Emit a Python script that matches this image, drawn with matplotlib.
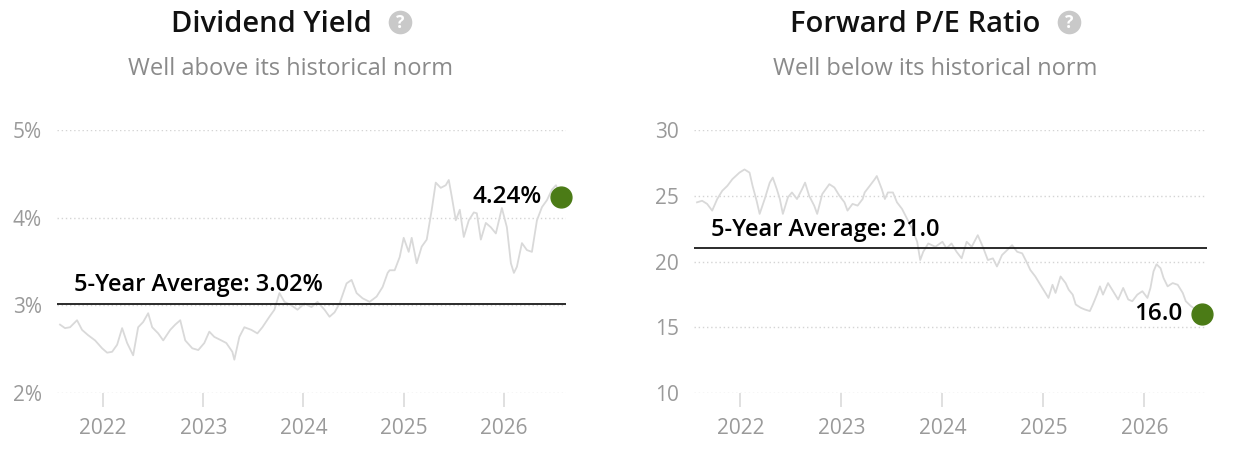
import matplotlib
matplotlib.use("Agg")
import matplotlib.pyplot as plt

plt.rcParams.update({
    "font.family": ["Open Sans", "DejaVu Sans"],
    "figure.facecolor": "white",
    "axes.facecolor": "white",
})

# -----------------------------
# Data (decimal years)
# -----------------------------
div_years = [2021.57, 2021.62, 2021.67, 2021.74, 2021.79, 2021.85, 2021.92, 2021.99,
             2022.04, 2022.09, 2022.14, 2022.19, 2022.24, 2022.30, 2022.35, 2022.40,
             2022.45, 2022.49, 2022.55, 2022.60, 2022.67, 2022.72, 2022.77, 2022.82,
             2022.89, 2022.95, 2023.01, 2023.06, 2023.11, 2023.18, 2023.23, 2023.29,
             2023.31, 2023.36, 2023.41, 2023.48, 2023.54, 2023.59, 2023.66, 2023.71,
             2023.76, 2023.81, 2023.88, 2023.94, 2024.01, 2024.08, 2024.14, 2024.21,
             2024.26, 2024.31, 2024.36, 2024.43, 2024.48, 2024.53, 2024.59, 2024.66,
             2024.73, 2024.79, 2024.84, 2024.86, 2024.91, 2024.96, 2025.00, 2025.05,
             2025.08, 2025.13, 2025.18, 2025.23, 2025.28, 2025.32, 2025.37, 2025.42,
             2025.45, 2025.48, 2025.52, 2025.56, 2025.60, 2025.65, 2025.70, 2025.73,
             2025.77, 2025.82, 2025.87, 2025.92, 2025.98, 2026.03, 2026.07, 2026.10,
             2026.13, 2026.18, 2026.23, 2026.28, 2026.33, 2026.38, 2026.43, 2026.48,
             2026.52, 2026.57]
div_vals = [2.78, 2.74, 2.75, 2.83, 2.72, 2.66, 2.60, 2.51,
            2.46, 2.47, 2.55, 2.74, 2.57, 2.43, 2.75, 2.81,
            2.91, 2.75, 2.68, 2.60, 2.72, 2.78, 2.83, 2.60,
            2.51, 2.49, 2.57, 2.70, 2.64, 2.60, 2.57, 2.47,
            2.38, 2.64, 2.75, 2.72, 2.68, 2.75, 2.87, 2.95,
            3.14, 3.04, 3.00, 2.95, 3.02, 2.98, 3.04, 2.95,
            2.87, 2.92, 3.02, 3.25, 3.29, 3.14, 3.08, 3.04,
            3.10, 3.21, 3.37, 3.40, 3.40, 3.55, 3.77, 3.61,
            3.77, 3.48, 3.67, 3.75, 4.09, 4.40, 4.34, 4.37,
            4.43, 4.24, 3.97, 4.09, 3.78, 3.97, 4.06, 4.05,
            3.75, 3.94, 3.89, 3.82, 4.11, 3.89, 3.48, 3.37,
            3.44, 3.71, 3.63, 3.61, 3.97, 4.12, 4.20, 4.32,
            4.37, 4.24]
div_avg = 3.02

pe_years = [2021.57, 2021.62, 2021.67, 2021.72, 2021.77, 2021.82, 2021.87, 2021.92, 2021.99,
            2022.04, 2022.09, 2022.12, 2022.16, 2022.19, 2022.24, 2022.29, 2022.32, 2022.36,
            2022.39, 2022.42, 2022.47, 2022.51, 2022.56, 2022.61, 2022.64, 2022.68, 2022.73,
            2022.76, 2022.81, 2022.88, 2022.93, 2022.98,
            2023.03, 2023.06, 2023.11, 2023.16, 2023.21, 2023.23, 2023.28, 2023.33, 2023.35,
            2023.40, 2023.43, 2023.46, 2023.51, 2023.55, 2023.60, 2023.65, 2023.70, 2023.75,
            2023.78, 2023.81, 2023.86, 2023.93,
            2024.00, 2024.04, 2024.09, 2024.14, 2024.19, 2024.24, 2024.29, 2024.35, 2024.40,
            2024.45, 2024.50, 2024.54, 2024.59, 2024.64, 2024.69, 2024.74, 2024.79, 2024.84,
            2024.87, 2024.92, 2024.97,
            2025.02, 2025.05, 2025.09, 2025.12, 2025.17, 2025.22, 2025.25, 2025.29, 2025.32,
            2025.37, 2025.41, 2025.46, 2025.49, 2025.53, 2025.56, 2025.59, 2025.64, 2025.69,
            2025.74, 2025.79, 2025.84, 2025.88, 2025.93, 2025.98,
            2026.03, 2026.06, 2026.09, 2026.12, 2026.16, 2026.19, 2026.23, 2026.28, 2026.33,
            2026.38, 2026.41, 2026.46, 2026.51, 2026.57]
pe_vals = [24.50, 24.62, 24.38, 23.87, 24.75, 25.38, 25.75, 26.26, 26.76,
           27.00, 26.76, 25.75, 24.62, 23.62, 24.75, 26.00, 26.38, 25.50,
           24.75, 23.62, 24.88, 25.25, 24.75, 25.50, 26.00, 25.00, 24.25,
           23.62, 25.13, 25.88, 25.63, 25.00,
           24.50, 23.87, 24.38, 24.25, 24.75, 25.25, 25.75, 26.26, 26.50,
           25.50, 24.75, 25.25, 25.25, 24.50, 24.00, 23.25, 22.50, 21.50,
           20.11, 20.74, 21.37, 21.12,
           21.50, 21.00, 21.37, 20.74, 20.24, 21.50, 21.12, 22.00, 21.12,
           20.11, 20.24, 19.62, 20.49, 20.86, 21.24, 20.74, 20.62, 19.86,
           19.36, 18.86, 18.23,
           17.61, 17.23, 18.23, 17.61, 18.86, 18.36, 17.86, 17.48, 16.73,
           16.48, 16.35, 16.23, 16.73, 17.48, 18.11, 17.48, 18.36, 17.74,
           17.11, 17.99, 17.11, 16.98, 17.48, 17.74,
           17.23, 17.99, 19.24, 19.79, 19.49, 18.74, 18.11, 18.36, 18.23,
           17.61, 16.98, 16.61, 16.35, 16.00]
pe_avg = 21.0

year_ticks = [2022, 2023, 2024, 2025, 2026]
div_ticks = [2, 3, 4, 5]
pe_ticks = [10, 15, 20, 25, 30]

GREEN = "#4b7b16"
LINE = "#d9d9d9"
GRID = "#d4d4d4"
TICK_GRAY = "#9a9a9a"

fig = plt.figure(figsize=(12.4, 4.5), dpi=100)


def panel(rect, years, vals, avg, yticks, ylim, fmt, avg_label, last_label):
    ax = fig.add_axes(rect)
    ax.set_xlim(2021.54, 2026.62)
    ax.set_ylim(*ylim)
    for s in ax.spines.values():
        s.set_visible(False)

    for t in yticks:
        ax.axhline(t, color=GRID, lw=1.0, ls=(0, (1, 2)), zorder=0)

    ax.plot(years, vals, color=LINE, lw=1.3, zorder=1)
    ax.axhline(avg, color="#1a1a1a", lw=1.3, zorder=2)

    ax.set_yticks(yticks)
    ax.set_yticklabels([fmt(t) for t in yticks])
    ax.set_xticks(year_ticks)
    ax.set_xticklabels([str(y) for y in year_ticks])
    ax.tick_params(axis="y", length=0, pad=11, labelsize=15, labelcolor=TICK_GRAY)
    ax.tick_params(axis="x", length=10, width=1.3, color="#dddddd", pad=8,
                   labelsize=15, labelcolor=TICK_GRAY)

    ax.annotate(avg_label, xy=(2021.71, avg), xytext=(0, 9),
                textcoords="offset points", ha="left", va="baseline",
                fontsize=17, fontweight="semibold", color="black")

    ax.plot([years[-1]], [vals[-1]], "o", ms=15, color=GREEN, zorder=5, clip_on=False)
    ax.annotate(last_label, xy=(years[-1], vals[-1]), xytext=(-14, 0),
                textcoords="offset points", ha="right", va="center",
                fontsize=17.5, fontweight="semibold", color="black")
    return ax


bottom = (450 - 393) / 450
height = 263 / 450

panel([57 / 1240, bottom, 509 / 1240, height], div_years, div_vals, div_avg,
      div_ticks, (2, 5), lambda t: f"{t}%",
      f"5-Year Average: {div_avg:.2f}%", f"{div_vals[-1]:.2f}%")

panel([694 / 1240, bottom, 513 / 1240, height], pe_years, pe_vals, pe_avg,
      pe_ticks, (10, 30), lambda t: f"{t}",
      f"5-Year Average: {pe_avg:.1f}", f"{pe_vals[-1]:.1f}")

# -----------------------------
# Headers (pixel overlay)
# -----------------------------
hdr = fig.add_axes([0, 0, 1, 1], zorder=10)
hdr.set_xlim(0, 1240)
hdr.set_ylim(450, 0)
hdr.axis("off")

headers = [
    (271, 400, 290, "Dividend Yield", "Well above its historical norm"),
    (915, 1069, 935, "Forward P/E Ratio", "Well below its historical norm"),
]
for tx, ix, sx, title, sub in headers:
    hdr.text(tx, 32, title, ha="center", va="baseline", fontsize=21,
             fontweight="semibold", color="#111111")
    hdr.plot([ix], [22], "o", ms=17, color="#c9c9c9", mec="none")
    hdr.text(ix, 22.5, "?", ha="center", va="center", fontsize=12.5,
             fontweight="bold", color="white")
    hdr.text(sx, 75, sub, ha="center", va="baseline", fontsize=17,
             color="#8a8a8a")

fig.savefig("out.png", dpi=100)
